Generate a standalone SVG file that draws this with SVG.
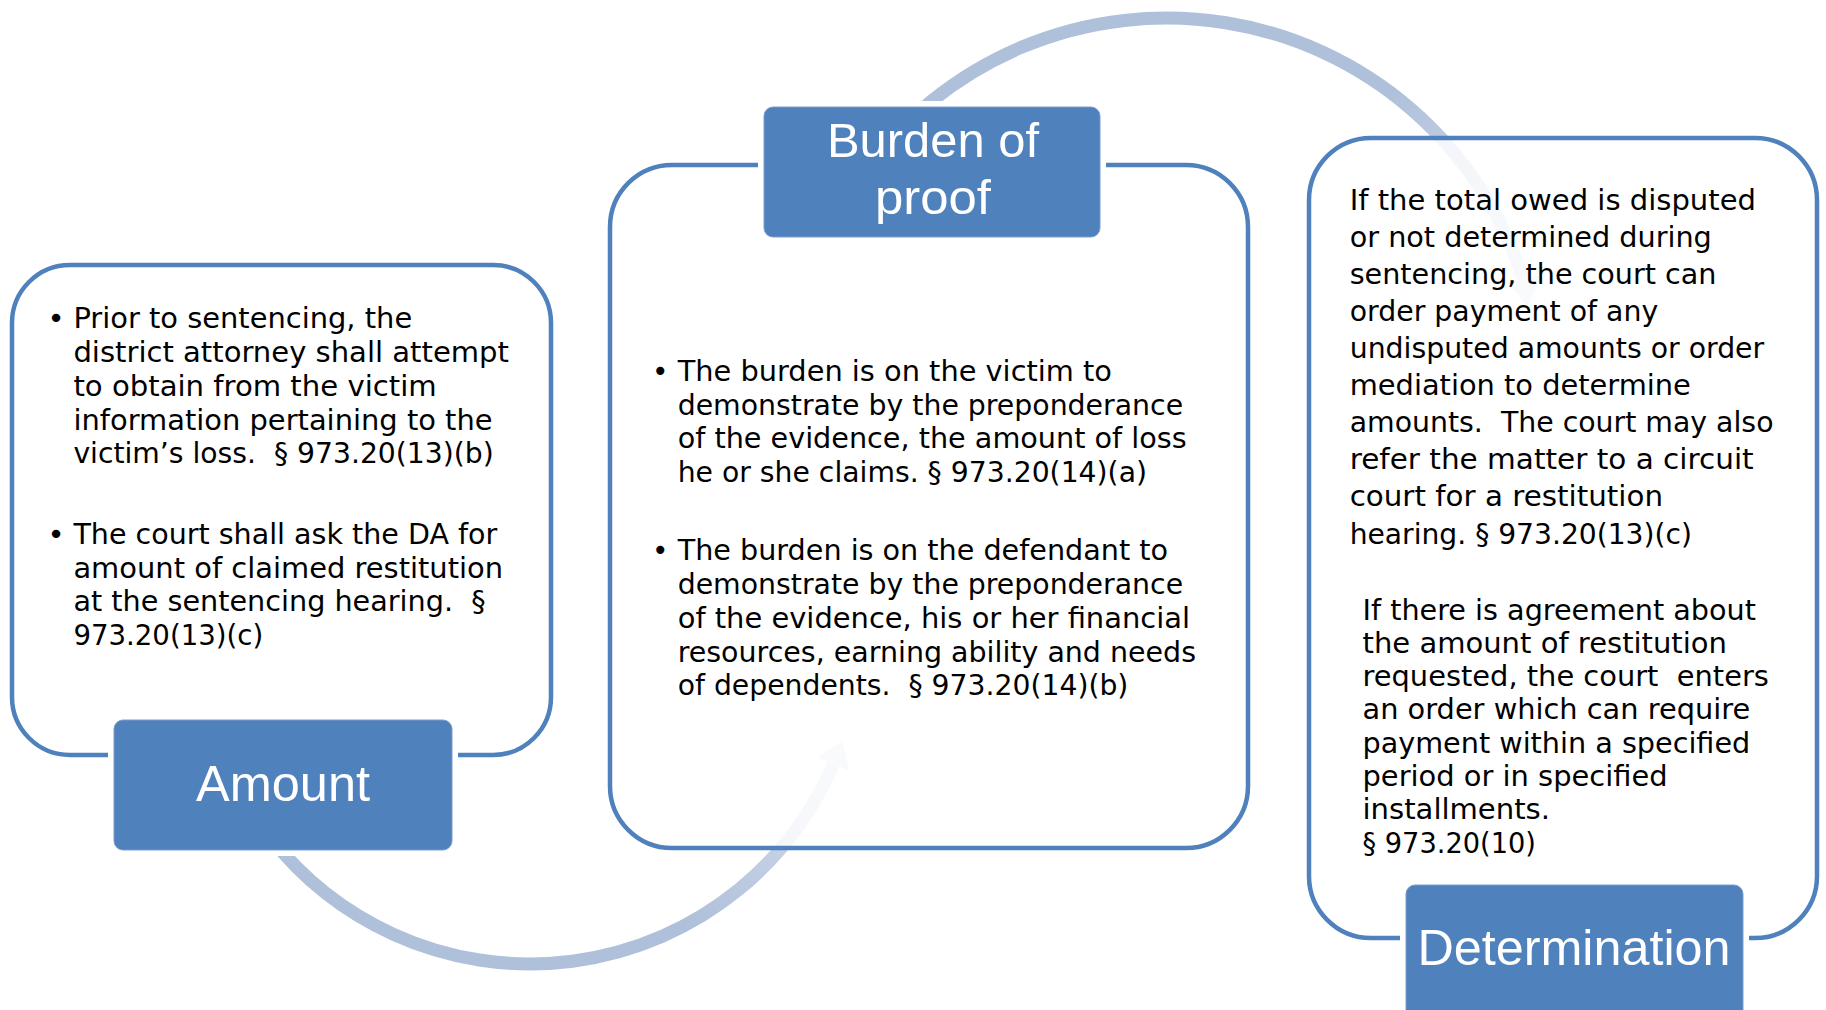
<svg xmlns="http://www.w3.org/2000/svg" width="1826" height="1010" viewBox="0 0 1826 1010">
<style>
.panel{fill:#ffffff;fill-opacity:0.82;stroke:#4F81BD;stroke-width:4.5}
.box{fill:#4F81BD;stroke:#ffffff;stroke-width:12;paint-order:stroke}
.boxedge{fill:none;stroke:#7A9CCB;stroke-width:1}
.lbl{font-family:"Liberation Sans",Arial,sans-serif;fill:#ffffff;text-anchor:middle}
.body{font-family:"DejaVu Sans",Tahoma,sans-serif;fill:#000000;white-space:pre}
.arc{fill:none;stroke-width:13}
</style>
<defs>
<linearGradient id="gb" gradientUnits="userSpaceOnUse" x1="700" y1="930" x2="845" y2="740">
<stop offset="0" stop-color="#AFC0DA"/>
<stop offset="1" stop-color="#DCE3EF"/>
</linearGradient>
<linearGradient id="gt" gradientUnits="userSpaceOnUse" x1="1390" y1="90" x2="1530" y2="307">
<stop offset="0" stop-color="#AFC0DA"/>
<stop offset="1" stop-color="#DCE3EF"/>
</linearGradient>
</defs>
<g id="connectors">
<path class="arc" stroke="url(#gb)" d="M 270 837 A 330 330 0 0 0 833.4 764"/>
<polygon fill="#DCE3EF" points="842.2,740.9 817.6,757.3 849.1,770.7"/>
<path class="arc" stroke="url(#gt)" d="M 861.6 175.5 A 374 374 0 0 1 1524 282"/>
<polygon fill="#DCE3EF" points="1528,307 1507,282 1541,275"/>
</g>
<g id="panel-amount">
<rect class="panel" x="12" y="265" width="539" height="490" rx="58" ry="58"/>
</g>
<g id="panel-burden">
<rect class="panel" x="610" y="165" width="638" height="683" rx="62" ry="62"/>
</g>
<g id="panel-determination">
<rect class="panel" x="1309" y="138" width="508" height="800" rx="62" ry="62"/>
</g>
<g id="text-amount" class="body" font-size="29" xml:space="preserve">
<text x="47.6" y="328.4">•</text>
<text x="73.4" y="328.4" textLength="338.8" lengthAdjust="spacingAndGlyphs">Prior to sentencing, the</text>
<text x="73.4" y="362.1" textLength="435.5" lengthAdjust="spacingAndGlyphs">district attorney shall attempt</text>
<text x="73.4" y="395.8" textLength="363.3" lengthAdjust="spacingAndGlyphs">to obtain from the victim</text>
<text x="73.4" y="429.5" textLength="419.2" lengthAdjust="spacingAndGlyphs">information pertaining to the</text>
<text x="73.4" y="463.2" textLength="420.3" lengthAdjust="spacingAndGlyphs">victim’s loss. &#160;§ 973.20(13)(b)</text>
<text x="47.6" y="543.8">•</text>
<text x="73.4" y="543.8" textLength="423.8" lengthAdjust="spacingAndGlyphs">The court shall ask the DA for</text>
<text x="73.4" y="577.5" textLength="429.7" lengthAdjust="spacingAndGlyphs">amount of claimed restitution</text>
<text x="73.4" y="611.2" textLength="412.2" lengthAdjust="spacingAndGlyphs">at the sentencing hearing. &#160;§</text>
<text x="73.4" y="644.9" textLength="189.8" lengthAdjust="spacingAndGlyphs">973.20(13)(c)</text>
</g>
<g id="text-burden" class="body" font-size="28" xml:space="preserve">
<text x="652" y="380.8">•</text>
<text x="677.7" y="380.8" textLength="434.3" lengthAdjust="spacingAndGlyphs">The burden is on the victim to</text>
<text x="677.7" y="414.6" textLength="505.4" lengthAdjust="spacingAndGlyphs">demonstrate by the preponderance</text>
<text x="677.7" y="448.4" textLength="508.9" lengthAdjust="spacingAndGlyphs">of the evidence, the amount of loss</text>
<text x="677.7" y="482.2" textLength="469.3" lengthAdjust="spacingAndGlyphs">he or she claims. § 973.20(14)(a)</text>
<text x="652" y="560.1">•</text>
<text x="677.7" y="560.1" textLength="490.3" lengthAdjust="spacingAndGlyphs">The burden is on the defendant to</text>
<text x="677.7" y="593.9" textLength="505.4" lengthAdjust="spacingAndGlyphs">demonstrate by the preponderance</text>
<text x="677.7" y="627.7" textLength="512.3" lengthAdjust="spacingAndGlyphs">of the evidence, his or her financial</text>
<text x="677.7" y="661.5" textLength="518.3" lengthAdjust="spacingAndGlyphs">resources, earning ability and needs</text>
<text x="677.7" y="695.3" textLength="450.7" lengthAdjust="spacingAndGlyphs">of dependents. &#160;§ 973.20(14)(b)</text>
</g>
<g id="text-determination" class="body" font-size="28" xml:space="preserve">
<text x="1349.7" y="209.6" textLength="406.3" lengthAdjust="spacingAndGlyphs">If the total owed is disputed</text>
<text x="1349.7" y="246.7" textLength="362.1" lengthAdjust="spacingAndGlyphs">or not determined during</text>
<text x="1349.7" y="283.8" textLength="366.8" lengthAdjust="spacingAndGlyphs">sentencing, the court can</text>
<text x="1349.7" y="320.9" textLength="308.5" lengthAdjust="spacingAndGlyphs">order payment of any</text>
<text x="1349.7" y="358.0" textLength="414.5" lengthAdjust="spacingAndGlyphs">undisputed amounts or order</text>
<text x="1349.7" y="395.1" textLength="341.2" lengthAdjust="spacingAndGlyphs">mediation to determine</text>
<text x="1349.7" y="432.2" textLength="423.8" lengthAdjust="spacingAndGlyphs">amounts. &#160;The court may also</text>
<text x="1349.7" y="469.3" textLength="404" lengthAdjust="spacingAndGlyphs">refer the matter to a circuit</text>
<text x="1349.7" y="506.4" textLength="313.3" lengthAdjust="spacingAndGlyphs">court for a restitution</text>
<text x="1349.7" y="543.5" textLength="342.3" lengthAdjust="spacingAndGlyphs">hearing. § 973.20(13)(c)</text>
<text x="1362.5" y="619.5" textLength="393.5" lengthAdjust="spacingAndGlyphs">If there is agreement about</text>
<text x="1362.5" y="652.8" textLength="364.5" lengthAdjust="spacingAndGlyphs">the amount of restitution</text>
<text x="1362.5" y="686.1" textLength="406.4" lengthAdjust="spacingAndGlyphs">requested, the court &#160;enters</text>
<text x="1362.5" y="719.4" textLength="387.7" lengthAdjust="spacingAndGlyphs">an order which can require</text>
<text x="1362.5" y="752.7" textLength="387.7" lengthAdjust="spacingAndGlyphs">payment within a specified</text>
<text x="1362.5" y="786.0" textLength="305.1" lengthAdjust="spacingAndGlyphs">period or in specified</text>
<text x="1362.5" y="819.3" textLength="187.5" lengthAdjust="spacingAndGlyphs">installments.</text>
<text x="1362.5" y="852.6" textLength="173.5" lengthAdjust="spacingAndGlyphs">§ 973.20(10)</text>
</g>
<g id="node-amount">
<rect class="box" x="114" y="720" width="338" height="130" rx="9" ry="9"/>
<rect class="boxedge" x="114" y="720" width="338" height="130" rx="9" ry="9"/>
<text class="lbl" x="283" y="801" font-size="50" textLength="174" lengthAdjust="spacingAndGlyphs">Amount</text>
</g>
<g id="node-burden">
<rect class="box" x="764" y="107" width="336" height="130" rx="9" ry="9"/>
<rect class="boxedge" x="764" y="107" width="336" height="130" rx="9" ry="9"/>
<text class="lbl" x="933" y="157" font-size="49" textLength="212" lengthAdjust="spacingAndGlyphs">Burden of</text>
<text class="lbl" x="933" y="214" font-size="49" textLength="116" lengthAdjust="spacingAndGlyphs">proof</text>
</g>
<g id="node-determination">
<rect class="box" x="1406" y="885" width="337" height="140" rx="9" ry="9"/>
<rect class="boxedge" x="1406" y="885" width="337" height="140" rx="9" ry="9"/>
<text class="lbl" x="1574" y="965" font-size="50" textLength="313" lengthAdjust="spacingAndGlyphs">Determination</text>
</g>
</svg>
